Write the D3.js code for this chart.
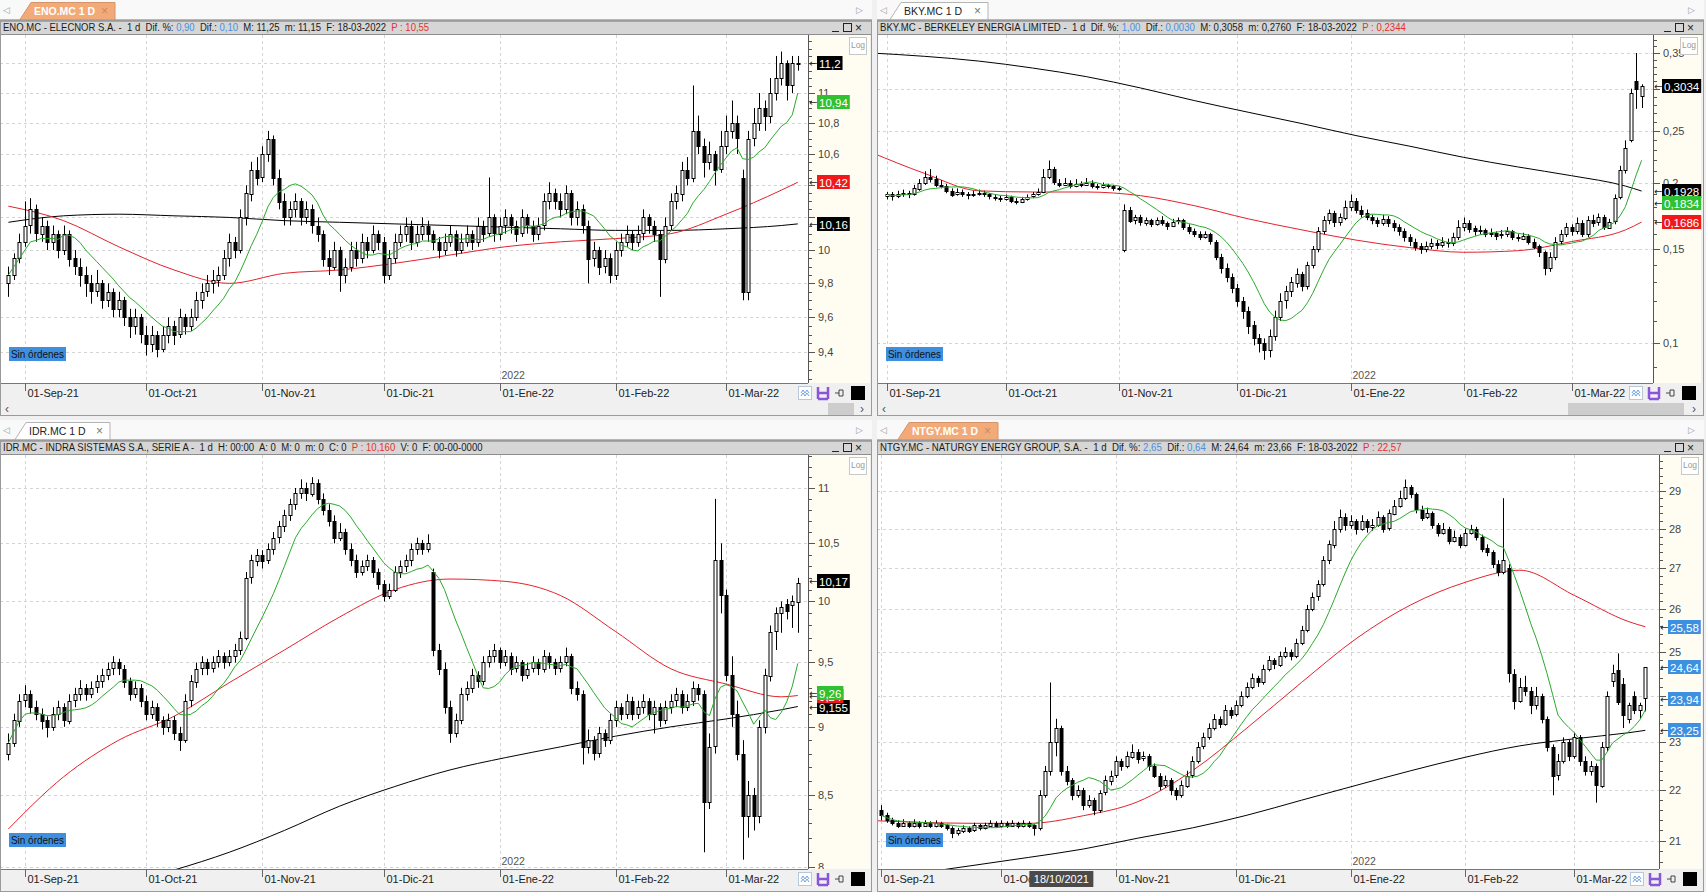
<!DOCTYPE html>
<html>
<head>
<meta charset="utf-8">
<script src="https://cdn.jsdelivr.net/npm/d3@7"></script>
<style>
  body { margin: 0; background: #f0f0f0; overflow: hidden; }
  svg { display: block; font-family: 'Liberation Sans', Arial, sans-serif; }
</style>
</head>
<body>
<svg width="1706" height="892"></svg>
<script>

// trading calendar
const firstDay = new Date(2021, 7, 27)
const lastDay = new Date(2022, 2, 18)
const closedDays = ['2021-12-24', '2021-12-31']
const monthLabels = ['01-Sep-21', '01-Oct-21', '01-Nov-21', '01-Dic-21', '01-Ene-22', '01-Feb-22', '01-Mar-22']

const maIdx = [0, 10, 20, 30, 40, 50, 60, 70, 80, 90, 100, 110, 120, 130, 140, 143]

// ENO.MC  [open, high, low, close]
const eno = [
  [9.80,9.90,9.72,9.85],[9.85,9.98,9.82,9.95],[9.95,10.10,9.92,10.05],[10.05,10.30,10.02,10.15],[10.15,10.32,10.10,10.25],
  [10.25,10.28,10.05,10.10],[10.10,10.20,10.05,10.15],[10.15,10.18,10.00,10.05],[10.05,10.15,10.00,10.10],[10.10,10.12,9.95,10.00],
  [10.00,10.15,9.97,10.10],[10.10,10.12,9.90,9.95],[9.95,10.00,9.85,9.90],[9.90,9.95,9.78,9.85],[9.85,9.90,9.72,9.80],
  [9.80,9.85,9.68,9.75],[9.75,9.88,9.72,9.80],[9.80,9.82,9.65,9.70],[9.70,9.80,9.66,9.75],[9.75,9.77,9.60,9.65],
  [9.65,9.75,9.60,9.70],[9.70,9.72,9.55,9.60],[9.60,9.65,9.48,9.55],[9.55,9.65,9.50,9.60],[9.60,9.62,9.45,9.50],
  [9.50,9.55,9.38,9.45],[9.45,9.55,9.40,9.50],[9.50,9.52,9.37,9.42],[9.42,9.55,9.40,9.50],[9.50,9.60,9.45,9.55],
  [9.55,9.58,9.44,9.50],[9.50,9.65,9.48,9.60],[9.60,9.62,9.50,9.55],[9.55,9.65,9.52,9.60],[9.60,9.75,9.58,9.70],
  [9.70,9.80,9.65,9.75],[9.75,9.85,9.72,9.80],[9.80,9.88,9.74,9.82],[9.82,9.90,9.78,9.85],[9.85,10.00,9.82,9.95],
  [9.95,10.10,9.90,10.05],[10.05,10.08,9.95,10.00],[10.00,10.25,9.98,10.20],[10.20,10.40,10.15,10.35],[10.35,10.55,10.30,10.50],
  [10.50,10.58,10.40,10.45],[10.45,10.65,10.42,10.60],[10.60,10.75,10.55,10.70],[10.70,10.72,10.40,10.45],[10.45,10.50,10.25,10.30],
  [10.30,10.35,10.15,10.20],[10.20,10.30,10.15,10.25],[10.25,10.35,10.20,10.30],[10.30,10.32,10.15,10.20],[10.20,10.30,10.16,10.25],
  [10.25,10.28,10.10,10.15],[10.15,10.20,10.05,10.10],[10.10,10.12,9.90,9.95],[9.95,10.00,9.85,9.90],[9.90,10.05,9.88,10.00],
  [10.00,10.02,9.75,9.85],[9.85,9.95,9.80,9.90],[9.90,10.05,9.87,10.00],[10.00,10.05,9.90,9.95],[9.95,10.10,9.92,10.05],
  [10.05,10.08,9.95,10.00],[10.00,10.15,9.98,10.10],[10.10,10.12,10.00,10.05],[10.05,10.08,9.80,9.85],[9.85,10.00,9.82,9.95],
  [9.95,10.10,9.92,10.05],[10.05,10.15,10.02,10.10],[10.10,10.20,10.05,10.15],[10.15,10.18,10.00,10.05],[10.05,10.15,10.02,10.10],
  [10.10,10.20,10.06,10.15],[10.15,10.18,10.05,10.10],[10.10,10.12,10.00,10.05],[10.05,10.08,9.95,10.00],[10.00,10.10,9.97,10.05],
  [10.05,10.15,10.02,10.10],[10.10,10.12,9.96,10.00],[10.00,10.10,9.98,10.05],[10.05,10.15,10.02,10.10],[10.10,10.12,10.00,10.05],
  [10.05,10.20,10.02,10.15],[10.15,10.18,10.05,10.10],[10.10,10.45,10.08,10.20],[10.20,10.22,10.05,10.10],[10.10,10.20,10.06,10.15],
  [10.15,10.25,10.10,10.20],[10.20,10.22,10.10,10.15],[10.15,10.18,10.05,10.10],[10.10,10.25,10.08,10.20],[10.20,10.22,10.10,10.15],
  [10.15,10.18,10.05,10.10],[10.10,10.20,10.06,10.15],[10.15,10.35,10.12,10.30],[10.30,10.42,10.25,10.35],[10.35,10.38,10.25,10.30],
  [10.30,10.35,10.20,10.25],[10.25,10.40,10.22,10.35],[10.35,10.37,10.15,10.20],[10.20,10.30,10.15,10.25],[10.25,10.28,10.10,10.15],
  [10.15,10.18,9.80,9.95],[9.95,10.05,9.90,10.00],[10.00,10.02,9.85,9.90],[9.90,10.00,9.86,9.95],[9.95,9.98,9.80,9.85],
  [9.85,10.05,9.82,10.00],[10.00,10.10,9.96,10.05],[10.05,10.15,10.02,10.10],[10.10,10.12,10.00,10.05],[10.05,10.15,10.02,10.10],
  [10.10,10.25,10.06,10.20],[10.20,10.22,10.10,10.15],[10.15,10.18,10.05,10.10],[10.10,10.12,9.72,9.95],[9.95,10.20,9.92,10.15],
  [10.15,10.35,10.12,10.30],[10.30,10.40,10.25,10.35],[10.35,10.55,10.30,10.50],[10.50,10.58,10.40,10.45],[10.45,11.05,10.42,10.75],
  [10.75,10.85,10.60,10.65],[10.65,10.70,10.45,10.55],[10.55,10.68,10.50,10.60],[10.60,10.62,10.40,10.50],[10.50,10.75,10.48,10.65],
  [10.65,10.85,10.60,10.75],[10.75,10.95,10.70,10.80],[10.80,10.85,10.60,10.70],[10.45,10.50,9.70,9.75],[9.75,10.75,9.70,10.70],
  [10.70,10.90,10.65,10.80],[10.80,11.00,10.75,10.90],[10.90,10.95,10.75,10.85],[10.85,11.10,10.80,11.00],[11.00,11.25,10.95,11.10],
  [11.10,11.28,11.05,11.20],[11.20,11.22,10.95,11.05],[11.05,11.25,11.00,11.20],[11.20,11.25,11.15,11.20]
]
const enoMa50 = [10.27,10.18,10.02,9.88,9.80,9.86,9.88,9.92,9.97,10.02,10.05,10.07,10.10,10.22,10.37,10.42]
const enoMa200 = [10.17,10.21,10.22,10.21,10.20,10.18,10.17,10.16,10.15,10.14,10.13,10.12,10.12,10.13,10.15,10.16]
const enoTicks = [9.4, 9.6, 9.8, 10, 10.2, 10.4, 10.6, 10.8, 11, 11.2]
const enoTags = [11.2, 10.94, 10.42, 10.16]   // price, short MA, 50 MA, 200 MA

// BKY.MC, from 01-Sep-21
const bky = [
  [0.188,0.192,0.186,0.190],[0.190,0.192,0.185,0.188],[0.188,0.193,0.187,0.190],[0.190,0.194,0.188,0.191],[0.191,0.193,0.187,0.190],
  [0.190,0.198,0.189,0.195],[0.195,0.203,0.193,0.200],[0.200,0.210,0.198,0.205],[0.205,0.212,0.200,0.203],[0.203,0.206,0.196,0.198],
  [0.198,0.202,0.195,0.197],[0.197,0.199,0.191,0.193],[0.193,0.195,0.188,0.190],[0.190,0.195,0.189,0.192],[0.192,0.194,0.188,0.190],
  [0.190,0.192,0.186,0.189],[0.189,0.193,0.188,0.190],[0.190,0.194,0.189,0.191],[0.191,0.193,0.188,0.190],[0.190,0.191,0.186,0.188],
  [0.188,0.190,0.185,0.187],[0.187,0.189,0.184,0.186],[0.186,0.190,0.185,0.188],[0.188,0.189,0.183,0.185],[0.185,0.187,0.182,0.184],
  [0.184,0.188,0.183,0.186],[0.186,0.190,0.185,0.188],[0.188,0.192,0.187,0.190],[0.190,0.195,0.189,0.192],[0.192,0.212,0.191,0.205],
  [0.205,0.220,0.203,0.212],[0.212,0.214,0.198,0.200],[0.200,0.203,0.196,0.198],[0.198,0.204,0.197,0.200],[0.200,0.202,0.195,0.197],
  [0.197,0.203,0.196,0.199],[0.199,0.201,0.196,0.198],[0.198,0.204,0.197,0.200],[0.200,0.202,0.195,0.197],[0.197,0.199,0.194,0.196],
  [0.196,0.200,0.195,0.198],[0.198,0.199,0.195,0.197],[0.197,0.198,0.193,0.195],[0.195,0.197,0.193,0.194],[0.150,0.182,0.148,0.178],
  [0.178,0.180,0.168,0.170],[0.170,0.174,0.167,0.172],[0.172,0.174,0.166,0.168],[0.168,0.172,0.166,0.170],[0.170,0.171,0.165,0.167],
  [0.167,0.172,0.166,0.170],[0.170,0.173,0.166,0.168],[0.168,0.169,0.163,0.166],[0.166,0.171,0.165,0.169],[0.169,0.172,0.167,0.170],
  [0.170,0.171,0.163,0.165],[0.165,0.167,0.160,0.162],[0.162,0.164,0.158,0.160],[0.160,0.162,0.156,0.158],[0.158,0.162,0.157,0.160],
  [0.160,0.161,0.153,0.155],[0.155,0.156,0.143,0.145],[0.145,0.147,0.135,0.138],[0.138,0.141,0.130,0.133],[0.133,0.135,0.124,0.127],
  [0.127,0.129,0.117,0.120],[0.120,0.122,0.111,0.115],[0.115,0.117,0.104,0.108],[0.108,0.110,0.099,0.102],[0.102,0.104,0.096,0.100],
  [0.100,0.102,0.093,0.097],[0.097,0.106,0.094,0.103],[0.103,0.115,0.101,0.112],[0.112,0.124,0.110,0.120],[0.120,0.128,0.116,0.125],
  [0.125,0.133,0.122,0.130],[0.130,0.138,0.127,0.135],[0.135,0.136,0.125,0.128],[0.128,0.142,0.126,0.140],[0.140,0.152,0.138,0.150],
  [0.150,0.165,0.148,0.162],[0.162,0.173,0.160,0.170],[0.170,0.178,0.167,0.175],[0.175,0.177,0.165,0.168],[0.168,0.175,0.166,0.172],
  [0.172,0.185,0.170,0.180],[0.180,0.190,0.177,0.185],[0.185,0.187,0.175,0.178],[0.178,0.181,0.172,0.175],[0.175,0.178,0.170,0.172],
  [0.172,0.174,0.167,0.170],[0.170,0.172,0.165,0.168],[0.168,0.174,0.166,0.171],[0.171,0.173,0.165,0.168],[0.168,0.170,0.162,0.165],
  [0.165,0.167,0.159,0.162],[0.162,0.164,0.155,0.158],[0.158,0.160,0.152,0.155],[0.155,0.157,0.149,0.152],[0.152,0.154,0.147,0.150],
  [0.150,0.155,0.148,0.152],[0.152,0.157,0.150,0.154],[0.154,0.156,0.150,0.153],[0.153,0.158,0.151,0.155],[0.155,0.157,0.151,0.154],
  [0.154,0.161,0.152,0.158],[0.158,0.170,0.156,0.165],[0.165,0.172,0.162,0.168],[0.168,0.170,0.161,0.164],[0.164,0.166,0.159,0.162],
  [0.162,0.166,0.160,0.163],[0.163,0.164,0.158,0.160],[0.160,0.164,0.158,0.161],[0.161,0.162,0.156,0.159],[0.159,0.163,0.157,0.160],
  [0.160,0.165,0.158,0.162],[0.162,0.163,0.156,0.158],[0.158,0.160,0.155,0.157],[0.157,0.161,0.156,0.159],[0.159,0.160,0.153,0.155],
  [0.155,0.157,0.150,0.152],[0.152,0.153,0.145,0.148],[0.148,0.149,0.134,0.138],[0.138,0.148,0.136,0.145],[0.145,0.158,0.143,0.155],
  [0.155,0.163,0.153,0.160],[0.160,0.168,0.158,0.165],[0.165,0.167,0.159,0.162],[0.162,0.172,0.160,0.168],[0.168,0.170,0.158,0.160],
  [0.160,0.173,0.158,0.170],[0.170,0.174,0.165,0.168],[0.168,0.175,0.166,0.172],[0.172,0.174,0.163,0.165],[0.165,0.171,0.164,0.169],
  [0.169,0.190,0.167,0.187],[0.188,0.215,0.186,0.211],[0.211,0.240,0.208,0.232],[0.240,0.300,0.238,0.294],[0.310,0.350,0.275,0.300],
  [0.290,0.3058,0.2760,0.3034]
]
const bkyMa50 = [0.228,0.208,0.193,0.192,0.192,0.189,0.181,0.171,0.163,0.156,0.151,0.148,0.149,0.155,0.163,0.1686]
const bkyMa200 = [0.350,0.345,0.338,0.328,0.316,0.301,0.285,0.271,0.258,0.245,0.234,0.223,0.214,0.206,0.197,0.1928]
const bkyTicks = [0.1, 0.15, 0.2, 0.25, 0.3, 0.35]
const bkyTags = [0.3034, 0.1834, 0.1686, 0.1928]

// IDR.MC
const idr = [
  [8.80,8.95,8.75,8.88],[8.88,9.10,8.85,9.05],[9.05,9.25,9.00,9.20],[9.20,9.32,9.15,9.25],[9.25,9.28,9.10,9.15],
  [9.15,9.20,9.05,9.10],[9.10,9.14,8.98,9.05],[9.05,9.08,8.92,9.00],[9.00,9.15,8.97,9.10],[9.10,9.20,9.05,9.15],
  [9.15,9.18,9.00,9.05],[9.05,9.25,9.02,9.20],[9.20,9.30,9.15,9.25],[9.25,9.36,9.20,9.30],[9.30,9.33,9.20,9.25],
  [9.25,9.35,9.22,9.30],[9.30,9.40,9.26,9.35],[9.35,9.45,9.30,9.40],[9.40,9.50,9.36,9.45],[9.45,9.55,9.40,9.50],
  [9.50,9.53,9.40,9.45],[9.45,9.48,9.30,9.35],[9.35,9.38,9.20,9.25],[9.25,9.35,9.22,9.30],[9.30,9.33,9.15,9.20],
  [9.20,9.24,9.05,9.10],[9.10,9.20,9.06,9.15],[9.15,9.18,9.00,9.05],[9.05,9.08,8.94,9.00],[9.00,9.10,8.96,9.05],
  [9.05,9.08,8.90,8.95],[8.95,9.00,8.82,8.90],[8.90,9.25,8.88,9.20],[9.20,9.40,9.15,9.35],[9.35,9.50,9.30,9.45],
  [9.45,9.55,9.40,9.50],[9.50,9.53,9.40,9.45],[9.45,9.55,9.42,9.50],[9.50,9.60,9.46,9.55],[9.55,9.58,9.45,9.50],
  [9.50,9.60,9.47,9.55],[9.55,9.65,9.50,9.60],[9.60,9.75,9.56,9.70],[9.70,10.25,9.68,10.20],[10.20,10.40,10.15,10.35],
  [10.35,10.45,10.30,10.40],[10.40,10.44,10.28,10.35],[10.35,10.50,10.32,10.45],[10.45,10.60,10.40,10.55],[10.55,10.70,10.50,10.65],
  [10.65,10.80,10.60,10.75],[10.75,10.90,10.70,10.85],[10.85,11.00,10.80,10.95],[10.95,11.08,10.90,11.00],[11.00,11.05,10.88,10.95],
  [10.95,11.10,10.92,11.05],[11.05,11.08,10.85,10.90],[10.90,10.95,10.75,10.80],[10.80,10.85,10.65,10.70],[10.70,10.75,10.50,10.55],
  [10.55,10.68,10.52,10.60],[10.60,10.63,10.40,10.45],[10.45,10.50,10.30,10.35],[10.35,10.40,10.20,10.25],[10.25,10.35,10.22,10.30],
  [10.30,10.40,10.26,10.35],[10.35,10.38,10.20,10.25],[10.25,10.28,10.10,10.15],[10.15,10.18,10.00,10.05],[10.05,10.15,10.02,10.10],
  [10.10,10.30,10.08,10.25],[10.25,10.35,10.20,10.30],[10.30,10.40,10.25,10.35],[10.35,10.50,10.30,10.45],[10.45,10.55,10.40,10.50],
  [10.50,10.53,10.40,10.45],[10.45,10.58,10.42,10.50],[10.25,10.28,9.55,9.60],[9.60,9.65,9.40,9.45],[9.45,9.50,9.10,9.15],
  [9.15,9.20,8.88,8.95],[8.95,9.10,8.92,9.05],[9.05,9.30,9.02,9.25],[9.25,9.35,9.20,9.30],[9.30,9.45,9.26,9.40],
  [9.40,9.43,9.30,9.35],[9.35,9.55,9.32,9.50],[9.50,9.60,9.46,9.55],[9.55,9.65,9.50,9.60],[9.60,9.62,9.45,9.50],
  [9.50,9.60,9.47,9.55],[9.55,9.58,9.40,9.45],[9.45,9.55,9.42,9.50],[9.50,9.52,9.35,9.40],[9.40,9.50,9.37,9.45],
  [9.45,9.55,9.42,9.50],[9.50,9.53,9.40,9.45],[9.45,9.60,9.42,9.55],[9.55,9.58,9.45,9.50],[9.50,9.53,9.40,9.45],
  [9.45,9.55,9.42,9.50],[9.50,9.62,9.47,9.55],[9.55,9.57,9.25,9.30],[9.30,9.35,9.20,9.25],[9.25,9.28,8.72,8.85],
  [8.85,8.98,8.80,8.90],[8.90,8.93,8.75,8.80],[8.80,9.00,8.77,8.95],[8.95,8.98,8.85,8.90],[8.90,9.10,8.87,9.05],
  [9.05,9.20,9.00,9.15],[9.15,9.18,9.05,9.10],[9.10,9.25,9.06,9.20],[9.20,9.23,9.05,9.10],[9.10,9.20,9.06,9.15],
  [9.15,9.25,9.10,9.20],[9.20,9.22,9.05,9.10],[9.10,9.20,8.95,9.15],[9.15,9.18,9.00,9.05],[9.05,9.20,9.02,9.15],
  [9.15,9.25,9.10,9.20],[9.20,9.30,9.15,9.25],[9.25,9.28,9.10,9.15],[9.15,9.25,9.12,9.20],[9.20,9.35,9.16,9.30],
  [9.30,9.33,9.20,9.25],[9.25,9.28,8.10,8.45],[8.45,8.95,8.40,8.85],[8.85,10.90,8.80,10.35],[10.35,10.50,9.90,10.05],
  [10.05,10.10,9.35,9.40],[9.40,9.55,9.00,9.10],[9.10,9.20,8.75,8.80],[8.80,8.90,8.05,8.35],[8.35,8.60,8.20,8.50],
  [8.50,8.55,8.25,8.35],[8.35,9.05,8.30,9.00],[9.00,9.45,8.95,9.40],[9.40,9.80,9.35,9.75],[9.75,9.95,9.60,9.90],
  [9.90,10.00,9.74,9.95],[9.98,10.02,9.85,9.92],[9.97,10.05,9.78,10.00],[10.00,10.20,9.74,10.16]
]
const idrMa50 = [8.26,8.63,8.90,9.08,9.34,9.60,9.87,10.10,10.19,10.17,10.05,9.75,9.45,9.33,9.23,9.24]
const idrMa200 = [null,null,7.88,7.98,8.10,8.25,8.42,8.56,8.68,8.77,8.85,8.93,9.00,9.06,9.13,9.155]
const idrTicks = [8, 8.5, 9, 9.5, 10, 10.5, 11]
const idrTags = [10.17, 9.26, 9.24, 9.155]

// NTGY.MC, from 01-Sep-21
const ntgy = [
  [21.60,21.70,21.40,21.50],[21.50,21.55,21.35,21.40],[21.40,21.45,21.30,21.35],[21.35,21.40,21.25,21.30],[21.30,21.42,21.27,21.35],
  [21.35,21.38,21.25,21.30],[21.30,21.42,21.26,21.35],[21.35,21.38,21.24,21.30],[21.30,21.40,21.27,21.35],[21.35,21.38,21.25,21.30],
  [21.30,21.40,21.26,21.35],[21.35,21.37,21.25,21.30],[21.30,21.33,21.20,21.25],[21.25,21.28,21.05,21.15],[21.15,21.25,21.10,21.20],
  [21.20,21.30,21.15,21.25],[21.25,21.28,21.15,21.20],[21.20,21.35,21.17,21.30],[21.30,21.33,21.20,21.25],[21.25,21.35,21.22,21.30],
  [21.30,21.40,21.27,21.35],[21.35,21.38,21.25,21.30],[21.30,21.40,21.26,21.35],[21.35,21.38,21.25,21.30],[21.30,21.40,21.27,21.35],
  [21.35,21.37,21.24,21.30],[21.30,21.40,21.26,21.35],[21.35,21.38,21.25,21.30],[21.30,21.33,21.10,21.25],[21.25,22.00,21.20,21.90],
  [21.90,22.50,21.85,22.40],[22.40,24.30,22.30,23.00],[23.00,23.50,22.70,23.30],[23.30,23.35,22.30,22.40],[22.40,22.50,22.10,22.20],
  [22.20,22.25,21.80,21.90],[21.90,22.10,21.85,22.00],[22.00,22.05,21.60,21.70],[21.70,21.90,21.65,21.80],[21.80,21.85,21.50,21.60],
  [21.60,22.00,21.55,21.95],[21.95,22.30,21.90,22.20],[22.20,22.40,22.10,22.30],[22.30,22.70,22.25,22.60],[22.60,22.65,22.40,22.50],
  [22.50,22.80,22.45,22.70],[22.70,22.95,22.65,22.80],[22.80,22.85,22.55,22.65],[22.65,22.80,22.60,22.70],[22.70,22.75,22.40,22.50],
  [22.50,22.55,22.25,22.30],[22.30,22.35,22.00,22.10],[22.10,22.30,22.05,22.20],[22.20,22.25,21.90,22.00],[22.00,22.05,21.80,21.90],
  [21.90,22.20,21.85,22.10],[22.10,22.40,22.05,22.30],[22.30,22.70,22.25,22.60],[22.60,23.00,22.55,22.90],[22.90,23.20,22.85,23.10],
  [23.10,23.40,23.05,23.30],[23.30,23.60,23.25,23.50],[23.50,23.55,23.30,23.40],[23.40,23.80,23.35,23.70],[23.70,23.75,23.50,23.60],
  [23.60,23.90,23.55,23.80],[23.80,24.10,23.75,24.00],[24.00,24.30,23.95,24.20],[24.20,24.50,24.15,24.40],[24.40,24.45,24.20,24.30],
  [24.30,24.70,24.25,24.60],[24.60,24.90,24.55,24.80],[24.80,24.85,24.60,24.70],[24.70,25.00,24.65,24.90],[24.90,25.10,24.85,25.00],
  [25.00,25.05,24.80,24.90],[24.90,25.30,24.85,25.20],[25.20,25.60,25.15,25.50],[25.50,26.10,25.45,26.00],[26.00,26.40,25.95,26.30],
  [26.30,26.70,26.20,26.60],[26.60,27.30,26.55,27.20],[27.20,27.70,27.10,27.60],[27.60,28.20,27.50,28.00],[28.00,28.50,27.90,28.30],
  [28.30,28.40,27.95,28.10],[28.10,28.35,28.00,28.20],[28.20,28.25,27.85,28.00],[28.00,28.35,27.95,28.20],[28.20,28.25,27.90,28.05],
  [28.05,28.25,27.95,28.10],[28.10,28.45,28.05,28.30],[28.30,28.35,27.90,28.00],[28.00,28.50,27.95,28.40],[28.40,28.75,28.35,28.60],
  [28.60,29.00,28.55,28.80],[28.80,29.30,28.75,29.10],[29.10,29.15,28.80,28.90],[28.90,28.95,28.40,28.50],[28.50,28.60,28.20,28.30],
  [28.30,28.55,28.25,28.40],[28.40,28.45,28.00,28.10],[28.10,28.15,27.80,27.90],[27.90,28.15,27.85,28.00],[28.00,28.05,27.60,27.70],
  [27.70,27.95,27.65,27.80],[27.80,27.85,27.50,27.60],[27.60,28.00,27.55,27.90],[27.90,28.10,27.85,28.00],[28.00,28.05,27.70,27.80],
  [27.80,27.85,27.40,27.50],[27.50,27.60,27.30,27.40],[27.40,27.45,27.00,27.10],[27.10,27.20,26.80,26.90],[26.90,28.80,26.85,27.20],
  [27.00,27.10,24.30,24.50],[24.50,24.60,23.70,23.90],[23.90,24.40,23.85,24.20],[24.20,24.45,24.00,24.10],[24.10,24.20,23.60,23.80],
  [23.80,24.20,23.70,24.00],[24.00,24.05,23.40,23.50],[23.50,23.55,22.80,22.90],[22.90,22.95,21.90,22.30],[22.30,22.75,22.20,22.60],
  [22.60,23.10,22.55,23.00],[23.00,23.05,22.60,22.70],[22.70,23.20,22.65,23.10],[23.10,23.15,22.50,22.60],[22.60,22.70,22.30,22.40],
  [22.40,22.60,22.30,22.50],[22.50,22.55,21.75,22.10],[22.10,23.00,22.05,22.90],[22.90,24.10,22.80,24.00],[24.35,24.70,24.20,24.52],
  [24.58,24.96,23.80,23.86],[24.26,24.40,23.30,23.58],[23.50,23.85,23.40,23.80],[24.00,24.10,23.60,23.70],[23.70,23.85,23.50,23.80],
  [23.94,24.64,23.66,24.64]
]
const ntgyMa50 = [21.40,21.36,21.34,21.34,21.49,21.77,22.40,23.30,24.30,25.30,26.10,26.65,26.95,26.33,25.70,25.58]
const ntgyMa200 = [20.20,20.38,20.53,20.68,20.84,21.05,21.25,21.50,21.80,22.10,22.40,22.68,22.92,23.07,23.20,23.25]
const ntgyTicks = [21, 22, 23, 24, 25, 26, 27, 28, 29]
const ntgyTags = [24.64, 23.94, 25.58, 23.25]

const enoHeader = [['ENO.MC - ELECNOR S.A. -  1 d  Dif. %: ', 0], ['0,90', 1], ['  Dif.: ', 0], ['0,10', 1], ['  M: 11,25  m: 11,15  F: 18-03-2022  ', 0], ['P : 10,55', 2]]
const bkyHeader = [['BKY.MC - BERKELEY ENERGIA LIMITED -  1 d  Dif. %: ', 0], ['1,00', 1], ['  Dif.: ', 0], ['0,0030', 1], ['  M: 0,3058  m: 0,2760  F: 18-03-2022  ', 0], ['P : 0,2344', 2]]
const idrHeader = [['IDR.MC - INDRA SISTEMAS S.A., SERIE A -  1 d  H: 00:00  A: 0  M: 0  m: 0  C: 0  ', 0], ['P : 10,160', 2], ['  V: 0  F: 00-00-0000', 0]]
const ntgyHeader = [['NTGY.MC - NATURGY ENERGY GROUP, S.A. -  1 d  Dif. %: ', 0], ['2,65', 1], ['  Dif.: ', 0], ['0,64', 1], ['  M: 24,64  m: 23,66  F: 18-03-2022  ', 0], ['P : 22,57', 2]]

const headColors = ['#1a1a1a', '#4a8fe0', '#e53030']
const lineColors = { ma10: '#2aaa2a', ma50: '#e3222a', ma200: '#000' }

let svg = d3.select('svg')
let defs = svg.append('defs')

// trading days and first bar of each month
let dayKey = d3.timeFormat('%Y-%m-%d')
let days = []
for (let d = new Date(firstDay); d <= lastDay; d.setDate(d.getDate() + 1)) {
  if (d.getDay() === 0 || d.getDay() === 6 || closedDays.includes(dayKey(d))) continue
  days.push(new Date(d))
}
let monthStarts = []
days.forEach((d, i) => {
  if (i > 0 && d.getMonth() !== days[i - 1].getMonth()) monthStarts.push(i)
})

let panels = [
  { tab: 'ENO.MC 1 D', active: true, tabX: 20, tabW: 95, x0: 0, x1: 872, top: 0, plotR: 808, axisR: 870,
    plotT: 35, plotB: 383, first: 0, xr: [8.4, 797.8], yd: [9.225, 11.394], minor: 0.05,
    candles: eno, ma50: enoMa50, ma200: enoMa200, ticks: enoTicks, tags: enoTags,
    header: enoHeader, headW: 427, thumb: [828, 854] },
  { tab: 'BKY.MC 1 D', active: false, tabX: 890, tabW: 98, x0: 877, x1: 1704, top: 0, plotR: 1653, axisR: 1701,
    plotT: 35, plotB: 383, first: 3, xr: [887, 1641.6], yd: [0.08414, 0.3783], minor: 0.01,
    candles: bky, ma50: bkyMa50, ma200: bkyMa200, ticks: bkyTicks, tags: bkyTags,
    header: bkyHeader, headW: 526, thumb: [1568, 1684] },
  { tab: 'IDR.MC 1 D', active: false, tabX: 15, tabW: 95, x0: 0, x1: 872, top: 420, plotR: 808, axisR: 870,
    plotT: 455, plotB: 869, first: 0, xr: [8.4, 797.8], yd: [7.987, 11.309], minor: 0.1,
    candles: idr, ma50: idrMa50, ma200: idrMa200, ticks: idrTicks, tags: idrTags,
    header: idrHeader, headW: 480 },
  { tab: 'NTGY.MC 1 D', active: true, tabX: 898, tabW: 100, x0: 877, x1: 1704, top: 420, plotR: 1659, axisR: 1702,
    plotT: 455, plotB: 869, first: 3, xr: [881.3, 1645.3], yd: [20.46, 29.97], minor: 0.2,
    candles: ntgy, ma50: ntgyMa50, ma200: ntgyMa200, ticks: ntgyTicks, tags: ntgyTags,
    header: ntgyHeader, headW: 522, allBlue: true, tooltip: '18/10/2021' }
]

function fmt(v) { return String(v).replace('.', ',') }

panels.forEach((p, k) => drawPanel(p, k))

function drawPanel(p, k) {
  let g = svg.append('g')
  let w = p.x1 - p.x0
  let hTop = p.top + 20

  // tab strip
  g.append('rect').attr('x', p.x0).attr('y', p.top).attr('width', w).attr('height', 20).attr('fill', '#f9f9f9')
  g.append('text').attr('x', p.x0 + 3).attr('y', p.top + 13).attr('font-size', 9).attr('fill', '#999')
    .attr('font-family', 'DejaVu Sans').text('◁')
  g.append('text').attr('x', p.x1 - 16).attr('y', p.top + 13).attr('font-size', 9).attr('fill', '#999')
    .attr('font-family', 'DejaVu Sans').text('▷')
  g.append('path')
    .attr('d', `M${p.tabX},${p.top + 19.5} L${p.tabX + 11},${p.top + 2.5} L${p.tabX + p.tabW},${p.top + 2.5} L${p.tabX + p.tabW},${p.top + 19.5}`)
    .attr('fill', p.active ? '#f2ab78' : '#fff')
    .attr('stroke', p.active ? '#d6946a' : '#b4b4b4')
  let tt = g.append('text').attr('x', p.tabX + 14).attr('y', p.top + 14.5)
    .attr('font-size', 10.5).attr('font-weight', p.active ? 'bold' : 'normal')
    .attr('fill', p.active ? '#fff' : '#222').text(p.tab)
  let tw = tt.node().getComputedTextLength()
  if (tw > p.tabW - 34) tt.attr('textLength', p.tabW - 34).attr('lengthAdjust', 'spacingAndGlyphs')
  g.append('text').attr('x', p.tabX + p.tabW - 14).attr('y', p.top + 14.5)
    .attr('font-size', 12).attr('fill', p.active ? '#c98a66' : '#777').text('×')

  // header bar
  g.append('rect').attr('x', p.x0 + 0.5).attr('y', hTop + 0.5).attr('width', w - 1).attr('height', 14)
    .attr('fill', '#d6d6d6').attr('stroke', '#8e8e8e')
  g.append('line').attr('x1', p.x0).attr('x2', p.x1).attr('y1', hTop + 0.5).attr('y2', hTop + 0.5)
    .attr('stroke', '#777').attr('stroke-width', 2)
  let hg = g.append('g')
  let ht = hg.append('text').attr('font-size', 11).style('white-space', 'pre')
  p.header.forEach(s => ht.append('tspan').attr('fill', headColors[s[1]]).text(s[0]))
  let natural = ht.node().getComputedTextLength()
  hg.attr('transform', `translate(${p.x0 + 3},${hTop + 11}) scale(${p.headW / natural},1)`)

  // window buttons
  let bx = p.x1 - 40
  g.append('line').attr('x1', bx).attr('x2', bx + 7).attr('y1', hTop + 11.5).attr('y2', hTop + 11.5).attr('stroke', '#222')
  g.append('rect').attr('x', bx + 11.5).attr('y', hTop + 3.5).attr('width', 8).attr('height', 8).attr('fill', 'none').attr('stroke', '#222')
  g.append('text').attr('x', bx + 23).attr('y', hTop + 12).attr('font-size', 12).attr('fill', '#222').text('×')

  // plot and axis background
  g.append('rect').attr('x', p.x0).attr('y', p.plotT).attr('width', p.plotR - p.x0).attr('height', p.plotB - p.plotT).attr('fill', '#fff')
  g.append('rect').attr('x', p.plotR).attr('y', p.plotT).attr('width', p.axisR - p.plotR).attr('height', p.plotB - p.plotT).attr('fill', '#fffdf2')
  g.append('rect').attr('x', p.axisR).attr('y', p.plotT).attr('width', p.x1 - p.axisR).attr('height', p.plotB - p.plotT).attr('fill', '#f0f0f0')

  let x = d3.scaleLinear().domain([p.first, 143]).range(p.xr)
  let y = d3.scaleLog().domain(p.yd).range([p.plotB, p.plotT])

  defs.append('clipPath').attr('id', 'clip' + k).append('rect')
    .attr('x', p.x0).attr('y', p.plotT).attr('width', p.plotR - p.x0).attr('height', p.plotB - p.plotT)

  // grid
  g.append('g').selectAll('line').data(p.ticks).join('line')
    .attr('x1', p.x0).attr('x2', p.plotR)
    .attr('y1', d => Math.round(y(d)) + 0.5).attr('y2', d => Math.round(y(d)) + 0.5)
    .attr('stroke', '#d4d4d4').attr('stroke-dasharray', '3,3')
  g.append('g').selectAll('line').data(monthStarts).join('line')
    .attr('x1', d => Math.round(x(d)) + 0.5).attr('x2', d => Math.round(x(d)) + 0.5)
    .attr('y1', p.plotT).attr('y2', p.plotB)
    .attr('stroke', '#d4d4d4').attr('stroke-dasharray', '3,3')
  let janX = Math.round(x(monthStarts[4])) + 0.5
  g.append('text').attr('x', janX + 1).attr('y', p.plotB - 4).attr('font-size', 10.5).attr('fill', '#555').text('2022')

  // candles
  let rows = p.candles.map((c, j) => ({ i: p.first + j, o: c[0], h: c[1], l: c[2], c: c[3] }))
  let cg = g.append('g').attr('clip-path', `url(#clip${k})`)

  // moving averages
  let line = d3.line().defined(d => d.v != null).x(d => x(d.i)).y(d => y(d.v)).curve(d3.curveMonotoneX)
  let ma200 = maIdx.map((i, j) => ({ i: i, v: p.ma200[j] }))
  let ma50 = maIdx.map((i, j) => ({ i: i, v: p.ma50[j] }))
  let closes = rows.map(d => d.c)
  let ma10 = rows.map((d, j) => ({ i: d.i, v: d3.mean(closes.slice(Math.max(0, j - 9), j + 1)) }))

  cg.append('path').datum(ma200).attr('d', line).attr('fill', 'none').attr('stroke', lineColors.ma200).attr('stroke-width', 1)
  cg.append('path').datum(ma50).attr('d', line).attr('fill', 'none').attr('stroke', lineColors.ma50).attr('stroke-width', 1)

  cg.selectAll('line.wick').data(rows).join('line').attr('class', 'wick')
    .attr('x1', d => Math.round(x(d.i)) + 0.5).attr('x2', d => Math.round(x(d.i)) + 0.5)
    .attr('y1', d => y(d.h)).attr('y2', d => y(d.l))
    .attr('stroke', '#000')
  cg.selectAll('rect.body').data(rows).join('rect').attr('class', 'body')
    .attr('x', d => Math.round(x(d.i)) - 1)
    .attr('y', d => Math.round(y(Math.max(d.o, d.c))) + 0.5)
    .attr('width', 3)
    .attr('height', d => Math.max(1, Math.round(Math.abs(y(d.o) - y(d.c)))))
    .attr('fill', d => d.c >= d.o ? '#fff' : '#000')
    .attr('stroke', '#000')

  cg.append('path').datum(ma10).attr('d', line.curve(d3.curveLinear)).attr('fill', 'none')
    .attr('stroke', lineColors.ma10).attr('stroke-width', 1)

  // right axis
  g.append('line').attr('x1', p.plotR + 0.5).attr('x2', p.plotR + 0.5).attr('y1', p.plotT).attr('y2', p.plotB)
    .attr('stroke', '#555')
  let minors = d3.range(Math.ceil(p.yd[0] / p.minor), Math.floor(p.yd[1] / p.minor) + 1).map(m => +(m * p.minor).toFixed(4))
  g.append('g').selectAll('line').data(minors).join('line')
    .attr('x1', p.plotR).attr('x2', p.plotR + 4)
    .attr('y1', d => Math.round(y(d)) + 0.5).attr('y2', d => Math.round(y(d)) + 0.5)
    .attr('stroke', '#555')
  g.append('g').selectAll('line').data(p.ticks).join('line')
    .attr('x1', p.plotR).attr('x2', p.plotR + 7)
    .attr('y1', d => Math.round(y(d)) + 0.5).attr('y2', d => Math.round(y(d)) + 0.5)
    .attr('stroke', '#555')
  // labels that sit under a value tag are covered by it in the original
  let shown = p.ticks.filter(t => !p.tags.some(v => Math.abs(y(v) - y(t)) < 7))
  g.append('g').selectAll('text').data(shown).join('text')
    .attr('x', p.plotR + 10).attr('y', d => y(d) + 4)
    .attr('font-size', 11).attr('fill', '#444')
    .text(fmt)

  // Log button
  g.append('rect').attr('x', p.axisR - 20.5).attr('y', p.plotT + 2.5).attr('width', 17).attr('height', 17)
    .attr('fill', '#fff').attr('stroke', '#c8c8c8')
  g.append('text').attr('x', p.axisR - 12).attr('y', p.plotT + 13).attr('text-anchor', 'middle')
    .attr('font-size', 8.5).attr('fill', '#999').text('Log')

  // value tags on the axis: drawn 200, 50, short, price
  let tagFill = p.allBlue ? ['#3d8fe0', '#3d8fe0', '#3d8fe0', '#3d8fe0'] : ['#000', '#30c030', '#f01818', '#000']
  ;[3, 2, 1, 0].forEach(t => {
    let v = p.tags[t]
    let yy = Math.round(y(v))
    let tg = g.append('g')
    tg.append('text').attr('x', p.plotR + 1).attr('y', yy + 4).attr('font-size', 10).attr('fill', '#222')
      .attr('font-family', 'DejaVu Sans').text('←')
    let rect = tg.append('rect').attr('x', p.plotR + 9).attr('y', yy - 7).attr('height', 14).attr('fill', tagFill[t])
    let tx = tg.append('text').attr('x', p.plotR + 11).attr('y', yy + 4.5).attr('font-size', 11.5).attr('fill', '#fff').text(fmt(v))
    rect.attr('width', tx.node().getComputedTextLength() + 4)
  })

  // orders badge
  g.append('rect').attr('x', p.x0 + 9).attr('y', p.plotB - 36).attr('width', 57).attr('height', 14).attr('fill', '#3f8fe0')
  g.append('text').attr('x', p.x0 + 11).attr('y', p.plotB - 25.5).attr('font-size', 10.5).attr('fill', '#111')
    .attr('textLength', 53).attr('lengthAdjust', 'spacingAndGlyphs').text('Sin órdenes')

  // time axis row
  g.append('rect').attr('x', p.x0).attr('y', p.plotB).attr('width', w).attr('height', 19).attr('fill', '#f0f0f0')
  g.append('line').attr('x1', p.x0).attr('x2', p.plotR).attr('y1', p.plotB + 0.5).attr('y2', p.plotB + 0.5).attr('stroke', '#777')
  let mg = g.append('g').selectAll('g').data(monthStarts).join('g')
    .attr('transform', d => `translate(${Math.round(x(d)) + 0.5},${p.plotB})`)
  mg.append('line').attr('y1', 0).attr('y2', 8).attr('stroke', '#666')
  mg.append('text').attr('x', 2).attr('y', 14).attr('font-size', 11).attr('fill', '#222').text((d, j) => monthLabels[j])

  if (p.tooltip) {
    let tx0 = x(monthStarts[1]) + 28
    g.append('rect').attr('x', tx0).attr('y', p.plotB + 2).attr('width', 64).attr('height', 16).attr('fill', '#4a4a4a')
    g.append('text').attr('x', tx0 + 32).attr('y', p.plotB + 14).attr('text-anchor', 'middle')
      .attr('font-size', 11).attr('fill', '#fff').text(p.tooltip)
  }

  // toolbar icons
  let ix = p.axisR - 72, iy = p.plotB + 3
  g.append('rect').attr('x', ix + 0.5).attr('y', iy + 0.5).attr('width', 13).attr('height', 13).attr('fill', '#fff').attr('stroke', '#b8c8d8')
  g.append('path').attr('d', `M${ix + 3},${iy + 7} l2,-3 l2,3 l2,-3 l2,3 M${ix + 3},${iy + 10} l2,-3 l2,3 l2,-3 l2,3`)
    .attr('fill', 'none').attr('stroke', '#6aa0e0')
  g.append('path').attr('d', `M${ix + 20},${iy + 1} v12 M${ix + 30},${iy + 1} v12 M${ix + 20},${iy + 7} h10 M${ix + 20},${iy + 13} h10`)
    .attr('fill', 'none').attr('stroke', '#8a55d8').attr('stroke-width', 2.5)
  g.append('path').attr('d', `M${ix + 37},${iy + 7} h4 M${ix + 41},${iy + 4} h4 v6 h-4 z`).attr('fill', 'none').attr('stroke', '#444')
  g.append('rect').attr('x', ix + 53).attr('y', iy).attr('width', 14).attr('height', 14).attr('fill', '#000')

  // horizontal scrollbar (upper windows)
  if (p.thumb) {
    let sy = p.plotB + 19
    g.append('rect').attr('x', p.x0).attr('y', sy).attr('width', w).attr('height', 14).attr('fill', '#f0f0f0')
    g.append('text').attr('x', p.x0 + 5).attr('y', sy + 11).attr('font-size', 12).attr('fill', '#555').text('‹')
    g.append('text').attr('x', p.x1 - 12).attr('y', sy + 11).attr('font-size', 12).attr('fill', '#555').text('›')
    g.append('rect').attr('x', p.thumb[0]).attr('y', sy + 1).attr('width', p.thumb[1] - p.thumb[0]).attr('height', 12).attr('fill', '#cdcdcd')
  }

  // window frame
  let fb = p.thumb ? p.plotB + 33 : 892
  g.append('rect').attr('x', p.x0 + 0.5).attr('y', hTop + 0.5).attr('width', w - 1).attr('height', fb - hTop - 1)
    .attr('fill', 'none').attr('stroke', '#9a9a9a')
}

</script>
</body>
</html>
